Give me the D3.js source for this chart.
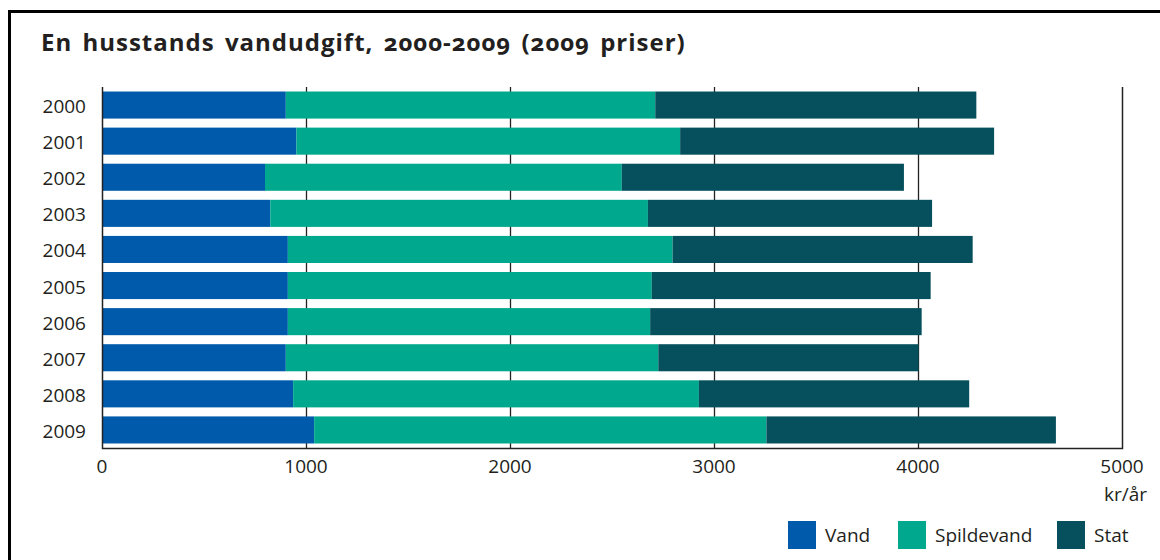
<!DOCTYPE html>
<html>
<head>
<meta charset="utf-8">
<script src="https://cdn.jsdelivr.net/npm/d3@7"></script>
<style>
  body { margin: 0; background: #fff; }
  text { font-family: "Open Sans", "Noto Sans", sans-serif; fill: #231f20; }
  .title { font-weight: 700; font-feature-settings: "onum"; }
</style>
</head>
<body>
<svg id="chart" width="1160" height="560"></svg>
<script>
// data (kr/år, 2009 prices)
var years = ["2000","2001","2002","2003","2004","2005","2006","2007","2008","2009"];
var vand       = [901, 953, 799, 825, 911, 911, 911, 901, 937, 1040];
var spildevand = [1811, 1881, 1749, 1851, 1886, 1784, 1776, 1826, 1989, 2217];
var stat       = [1574, 1539, 1383, 1393, 1471, 1367, 1331, 1276, 1325, 1419];
var seriesNames = ["Vand", "Spildevand", "Stat"];
var colors = ["#005aab", "#00a88e", "#05505c"];
var xTicks = [0, 1000, 2000, 3000, 4000, 5000];

var svg = d3.select("#chart");

// frame round the figure
svg.append("path")
    .attr("d", "M9.5,1000 V11.5 H1200")
    .attr("fill", "none")
    .attr("stroke", "#000")
    .attr("stroke-width", 3);

svg.append("text")
    .attr("class", "title")
    .attr("x", 41)
    .attr("y", 51)
    .style("font-size", "24px")
    .style("letter-spacing", "1px")
    .style("word-spacing", "3px")
    .text("En husstands vandudgift, 2000-2009 (2009 priser)");

var plotLeft = 102, plotRight = 1122, plotTop = 87, plotBottom = 448;

var x = d3.scaleLinear().domain([0, 5000]).range([plotLeft, plotRight]);
var y = d3.scaleBand().domain(years).range([plotTop, plotBottom])
    .paddingInner(0.25).paddingOuter(0.125);

var table = years.map(function(yr, i) {
  return {year: yr, Vand: vand[i], Spildevand: spildevand[i], Stat: stat[i]};
});
var stacked = d3.stack().keys(seriesNames)(table);

// grid lines behind bars
svg.append("g").selectAll("line")
    .data(xTicks.slice(1, -1))
    .enter().append("line")
    .attr("x1", function(d) { return Math.round(x(d)) + 0.5; })
    .attr("x2", function(d) { return Math.round(x(d)) + 0.5; })
    .attr("y1", plotTop)
    .attr("y2", plotBottom)
    .attr("stroke", "#222")
    .attr("stroke-width", 1.3);

svg.append("g").selectAll("g")
    .data(stacked)
    .enter().append("g")
    .attr("fill", function(d, i) { return colors[i]; })
    .selectAll("rect")
    .data(function(d) { return d; })
    .enter().append("rect")
    .attr("x", function(d) { return x(d[0]); })
    .attr("width", function(d) { return x(d[1]) - x(d[0]); })
    .attr("y", function(d) { return y(d.data.year); })
    .attr("height", y.bandwidth());

// axis frame: left, bottom, right
svg.append("path")
    .attr("d", "M" + (plotLeft + 0.5) + "," + plotTop + " V" + (plotBottom + 0.5) +
               " H" + (plotRight + 0.5) + " V" + plotTop)
    .attr("fill", "none")
    .attr("stroke", "#222")
    .attr("stroke-width", 1.5);

svg.append("g").selectAll("text")
    .data(years)
    .enter().append("text")
    .attr("x", 86)
    .attr("y", function(d) { return y(d) + y.bandwidth() / 2 + 8; })
    .attr("text-anchor", "end")
    .style("font-size", "19px")
    .text(function(d) { return d; });

svg.append("g").selectAll("text")
    .data(xTicks)
    .enter().append("text")
    .attr("x", function(d) { return x(d); })
    .attr("y", 473)
    .attr("text-anchor", "middle")
    .style("font-size", "19px")
    .text(function(d) { return d; });

svg.append("text")
    .attr("x", 1147)
    .attr("y", 501)
    .attr("text-anchor", "end")
    .style("font-size", "19px")
    .text("kr/år");

// legend
var legendX = [788, 898, 1057];
var legend = svg.append("g").selectAll("g")
    .data(seriesNames)
    .enter().append("g")
    .attr("transform", function(d, i) { return "translate(" + legendX[i] + ",521)"; });

legend.append("rect")
    .attr("width", 28)
    .attr("height", 28)
    .attr("fill", function(d, i) { return colors[i]; });

legend.append("text")
    .attr("x", 37)
    .attr("y", 21)
    .style("font-size", "19px")
    .text(function(d) { return d; });
</script>
</body>
</html>
